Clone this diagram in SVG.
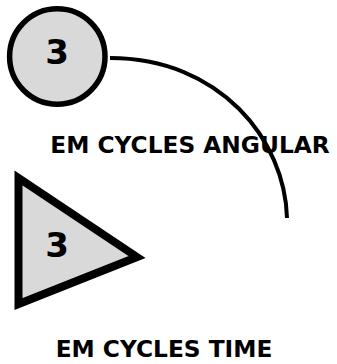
<svg xmlns="http://www.w3.org/2000/svg" width="337" height="364" viewBox="0 0 337 364">
<style>
.shape{fill:#d9d9d9;stroke:#000}
.num{font-family:"DejaVu Sans",Verdana,sans-serif;font-weight:bold;font-size:34px;text-anchor:middle;fill:#000}
.lbl{font-family:"DejaVu Sans",Verdana,sans-serif;font-weight:bold;font-size:23.3px;text-anchor:middle;fill:#000}
.conn{fill:none;stroke:#000;stroke-width:4}
</style>
<rect width="337" height="364" fill="#fff"/>
<g id="connectors">
<path class="conn" d="M110,58 C220,58 285,140 287,218"/>
</g>
<g id="node-circle">
<circle class="shape" cx="57.3" cy="56.5" r="47.7" stroke-width="5.5"/>
<text class="num" x="57" y="64">3</text>
</g>
<g id="label-angular">
<text class="lbl" x="190" y="153">EM CYCLES ANGULAR</text>
</g>
<g id="node-triangle">
<polygon class="shape" points="18.5,178 18.5,304 137,257" stroke-width="8"/>
<text class="num" x="57" y="257">3</text>
</g>
<g id="label-time">
<text class="lbl" x="164" y="357">EM CYCLES TIME</text>
</g>
</svg>
